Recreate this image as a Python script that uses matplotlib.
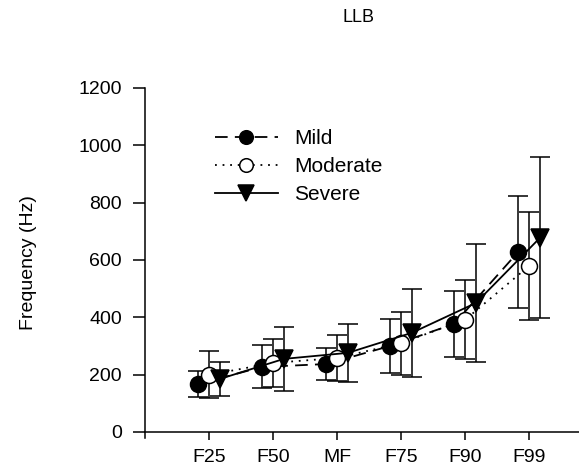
import numpy as np
import matplotlib
matplotlib.use("Agg")
import matplotlib.pyplot as plt

plt.rcParams['font.family'] = ['Liberation Sans', 'DejaVu Sans']

# data
categories = ['F25', 'F50', 'MF', 'F75', 'F90', 'F99']
mild_mean = [167, 227, 237, 300, 377, 628]
mild_sd = [44, 75, 56, 95, 115, 196]
moderate_mean = [199, 241, 258, 310, 391, 579]
moderate_sd = [82, 84, 80, 110, 138, 190]
severe_mean = [185, 255, 276, 346, 450, 677]
severe_sd = [59, 111, 100, 153, 206, 281]

fig = plt.figure(figsize=(5.79, 4.68), dpi=100)
ax = fig.add_axes([145 / 579, 30 / 468, 434 / 579, 350 / 468])

x = np.arange(1, len(categories) + 1)
off = 0.17

groups = [
    ('Mild', mild_mean, mild_sd, -off, 'o', 'black', (0, (7, 4)), 11.5),
    ('Moderate', moderate_mean, moderate_sd, 0.0, 'o', 'white', (0, (1, 3.2)), 11.5),
    ('Severe', severe_mean, severe_sd, off, 'v', 'black', '-', 13),
]

for name, m, sd, dx, mk, fc, ls, ms in groups:
    xs = x + dx
    ax.errorbar(xs, m, yerr=sd, fmt='none', ecolor='black', elinewidth=1.1,
                capsize=7, capthick=1.1, zorder=2)
    ax.plot(xs, m, linestyle=ls, color='black', lw=1.3, marker=mk, ms=ms,
            mfc=fc, mec='black', mew=1.1, label=name, zorder=3)

ax.set_xlim(0, 434 / 64)
ax.set_ylim(-21, 1200)
ax.spines['bottom'].set_position(('data', 0))
ax.spines['top'].set_visible(False)
ax.spines['right'].set_visible(False)
for s in ['left', 'bottom']:
    ax.spines[s].set_linewidth(1.1)

ax.set_xticks(x)
ax.set_xticklabels(categories)
ax.set_yticks(np.arange(0, 1201, 200))
ax.tick_params(axis='both', direction='out', width=1.1, labelsize=14)
ax.tick_params(axis='x', length=5.5, pad=7)
ax.tick_params(axis='y', length=8.6, pad=8)

ax.set_ylabel('Frequency (Hz)', fontsize=14)
ax.yaxis.set_label_coords(-108 / 434, 0.5)
fig.text(358 / 579, 1 - 18 / 468, 'LLB', fontsize=13, ha='center', va='center')

ax.legend(loc='upper left', bbox_to_anchor=(215 / 579, 1 - 129 / 468),
          bbox_transform=fig.transFigure, frameon=False, borderpad=0,
          borderaxespad=0, fontsize=15, handlelength=3.0, handletextpad=0.8,
          labelspacing=0.44, markerscale=0.85)

fig.savefig('out.png', dpi=100)
